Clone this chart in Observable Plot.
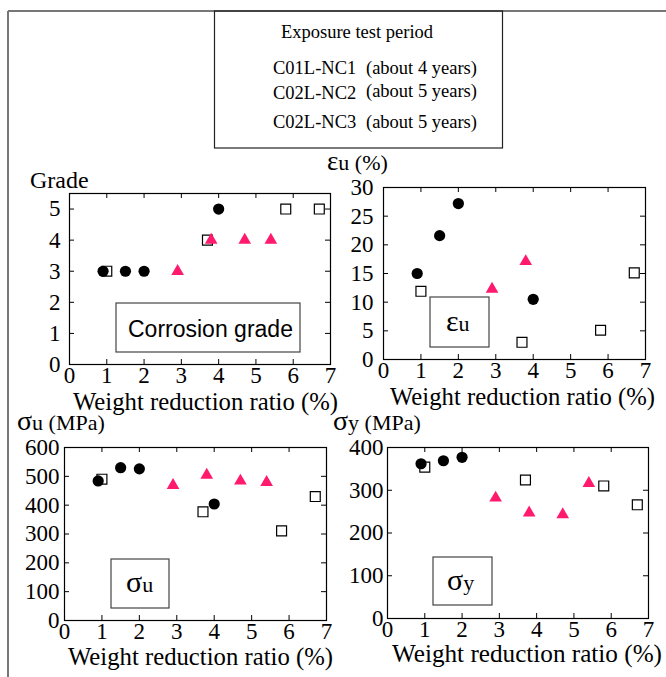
<!DOCTYPE html>
<html><head><meta charset="utf-8">
<script src="https://cdn.jsdelivr.net/npm/d3@7"></script>
<script src="https://cdn.jsdelivr.net/npm/@observablehq/plot@0.6"></script>
<style>
body{margin:0;background:#fff;}
#root{position:relative;width:666px;height:677px;overflow:hidden;background:#fff;font-family:"Liberation Serif",Tinos,"Times New Roman",Times,"DejaVu Serif",serif;}
#root svg.panel{position:absolute;}
#root svg text{font-family:"Liberation Serif",Tinos,"Times New Roman",Times,"DejaVu Serif",serif;}
#root svg text.sans{font-family:"Liberation Sans",Arimo,Arial,sans-serif;}
#overlay{position:absolute;left:0;top:0;pointer-events:none;}
</style></head><body><div id="root"></div>
<script>
// ---- data ----
const seriesNames = ["C01L-NC1", "C02L-NC2", "C02L-NC3"];
const seriesPeriods = ["(about 4 years)", "(about 5 years)", "(about 5 years)"];
const legendTitle = "Exposure test period";
const xLabel = "Weight reduction ratio (%)";

const weightNC1 = [0.9, 1.5, 2.0, 4.0];
const weightNC2 = [1.0, 3.7, 5.8, 6.7];
const weightNC3 = [2.9, 3.8, 4.7, 5.4];

const gradeNC1 = [3, 3, 3, 5];
const gradeNC2 = [3, 4, 5, 5];
const gradeNC3 = [3, 4, 4, 4];

const euNC1 = [15.0, 21.6, 27.2, 10.5];
const euNC2 = [11.9, 3.0, 5.1, 15.1];
const euNC3 = [12.3, 17.1, null, null];

const suNC1 = [484, 530, 526, 404];
const suNC2 = [490, 377, 311, 430];
const suNC3 = [469, 504, 484, 479];

const syNC1 = [362, 369, 377, null];
const syNC2 = [354, 324, 310, 266];
const syNC3 = [282, 247, 243, 316];

const xTicks = [0, 1, 2, 3, 4, 5, 6, 7];
const gradeTicks = [0, 1, 2, 3, 4, 5];
const euTicks = [0, 5, 10, 15, 20, 25, 30];
const suTicks = [0, 100, 200, 300, 400, 500, 600];
const syTicks = [0, 100, 200, 300, 400];

// ---- build ----
const pink = "#ff1a6e";
const serif = '"Liberation Serif", Tinos, "Times New Roman", Times, "DejaVu Serif", serif';
function rows(v1, v2, v3) {
  const out = [];
  [[weightNC1, v1, "NC1"], [weightNC2, v2, "NC2"], [weightNC3, v3, "NC3"]].forEach(([xs, ys, s]) =>
    xs.forEach((x, i) => { if (ys[i] != null) out.push({x, y: ys[i], s}); }));
  return out;
}

const root = document.getElementById("root");

function panel({data, yDomain, yTicks, left, top, width, height, ml, mr, mt, mb, ypad}) {
  const innerW = width - ml - mr, innerH = height - mt - mb, t = 5;
  const tickStyle = {stroke: "black", strokeOpacity: 1, strokeWidth: 1};
  const svg = Plot.plot({
    width, height, marginLeft: ml, marginRight: mr, marginTop: mt, marginBottom: mb,
    x: {domain: [0, 7]},
    y: {domain: yDomain},
    style: {fontFamily: serif, fontSize: "23px", color: "black", background: "transparent", overflow: "visible"},
    marks: [
      Plot.gridX(xTicks, {...tickStyle, insetTop: innerH - t}),
      Plot.gridX(xTicks, {...tickStyle, insetBottom: innerH - t}),
      Plot.gridY(yTicks, {...tickStyle, insetRight: innerW - t}),
      Plot.gridY(yTicks, {...tickStyle, insetLeft: innerW - t}),
      Plot.frame({stroke: "black", strokeWidth: 1.2}),
      Plot.axisX(xTicks, {tickSize: 0, tickPadding: 2, label: null, fill: "black"}),
      Plot.axisY(yTicks, {tickSize: 0, tickPadding: ypad, label: null, fill: "black"}),
      Plot.dot(data.filter(d => d.s === "NC2"), {x: "x", y: "y", symbol: "square", r: 5.6, stroke: "black", strokeWidth: 1.2, fill: "none"}),
      Plot.dot(data.filter(d => d.s === "NC1"), {x: "x", y: "y", symbol: "circle", r: 5.6, fill: "black", stroke: "none"}),
      Plot.dot(data.filter(d => d.s === "NC3"), {x: "x", y: "y", symbol: "triangle", r: 4.7, fill: pink, stroke: "none"})
    ]
  });
  svg.classList.add("panel");
  svg.style.left = left + "px";
  svg.style.top = top + "px";
  root.appendChild(svg);
}

panel({data: rows(gradeNC1, gradeNC2, gradeNC3), yDomain: [0, 5.5], yTicks: gradeTicks,
  left: 10, top: 183, width: 330, height: 210, ml: 59, mr: 10, mt: 10, mb: 29, ypad: 9});
panel({data: rows(euNC1, euNC2, euNC3), yDomain: [0, 30], yTicks: euTicks,
  left: 330, top: 177, width: 330, height: 215, ml: 53, mr: 15, mt: 10, mb: 33, ypad: 10});
panel({data: rows(suNC1, suNC2, suNC3), yDomain: [0, 600], yTicks: suTicks,
  left: 5, top: 437, width: 330, height: 210, ml: 59, mr: 9, mt: 10, mb: 27, ypad: 5});
panel({data: rows(syNC1, syNC2, syNC3), yDomain: [0, 400], yTicks: syTicks,
  left: 335, top: 437, width: 325, height: 210, ml: 52, mr: 12, mt: 10, mb: 29, ypad: 4});

// ---- overlay: frame, legend, titles, label boxes ----
const NS = "http://www.w3.org/2000/svg";
const ov = document.createElementNS(NS, "svg");
ov.setAttribute("id", "overlay");
ov.setAttribute("width", 666); ov.setAttribute("height", 677);
root.appendChild(ov);
function el(tag, attrs, parent = ov) {
  const e = document.createElementNS(NS, tag);
  for (const k in attrs) e.setAttribute(k, attrs[k]);
  parent.appendChild(e); return e;
}
function txt(x, y, parts, opts = {}) {
  const t = el("text", {x, y, "font-size": opts.size || 22, fill: "black", "text-anchor": opts.anchor || "start"});
  if (opts.sans) t.setAttribute("class", "sans");
  if (opts.textLength) { t.setAttribute("textLength", opts.textLength); t.setAttribute("lengthAdjust", "spacingAndGlyphs"); }
  for (const p of parts) {
    const s = el("tspan", p.size ? {"font-size": p.size} : {}, t);
    s.textContent = p.t;
  }
  return t;
}
// outer frame
el("line", {x1: 8, y1: 11, x2: 666, y2: 11, stroke: "#777", "stroke-width": 2});
el("line", {x1: 8, y1: 11, x2: 8, y2: 677, stroke: "#777", "stroke-width": 2});
// legend
el("rect", {x: 214.5, y: 11, width: 288, height: 137, fill: "none", stroke: "#222", "stroke-width": 1.2});
txt(357, 38, [{t: legendTitle}], {size: 18.5, anchor: "middle"});
const legY = [74, 99, 128];
seriesNames.forEach((n, i) => {
  txt(273, legY[i], [{t: n}], {size: 18.5});
  txt(366, legY[i] - (i === 1 ? 2 : 0), [{t: seriesPeriods[i]}], {size: 18.5});
});
// axis titles
txt(30, 188, [{t: "Grade"}], {size: 24});
txt(327, 170, [{t: "ε", size: 27}, {t: "u (%)"}], {size: 22});
txt(17, 430, [{t: "σ", size: 28}, {t: "u (MPa)"}], {size: 22});
txt(333, 430, [{t: "σ", size: 28}, {t: "y (MPa)"}], {size: 22});
txt(73, 410, [{t: xLabel}], {size: 24.5, textLength: 265});
txt(390, 405, [{t: xLabel}], {size: 24.5, textLength: 265});
txt(68, 665, [{t: xLabel}], {size: 24.5, textLength: 265});
txt(392, 662, [{t: xLabel}], {size: 24.5, textLength: 270});
// inner label boxes
const boxStroke = {fill: "none", stroke: "#444", "stroke-width": 1.2};
el("rect", {x: 116, y: 303, width: 184, height: 49, ...boxStroke});
txt(128, 337, [{t: "Corrosion grade"}], {size: 23, sans: true});
el("rect", {x: 430, y: 297, width: 59, height: 50, ...boxStroke});
txt(446, 331, [{t: "ε", size: 30}, {t: "u"}], {size: 22});
el("rect", {x: 111, y: 559, width: 58, height: 49, ...boxStroke});
txt(126, 592, [{t: "σ", size: 30}, {t: "u"}], {size: 22});
el("rect", {x: 433, y: 557, width: 59, height: 48, ...boxStroke});
txt(447, 590, [{t: "σ", size: 30}, {t: "y"}], {size: 22});
</script></body></html>
